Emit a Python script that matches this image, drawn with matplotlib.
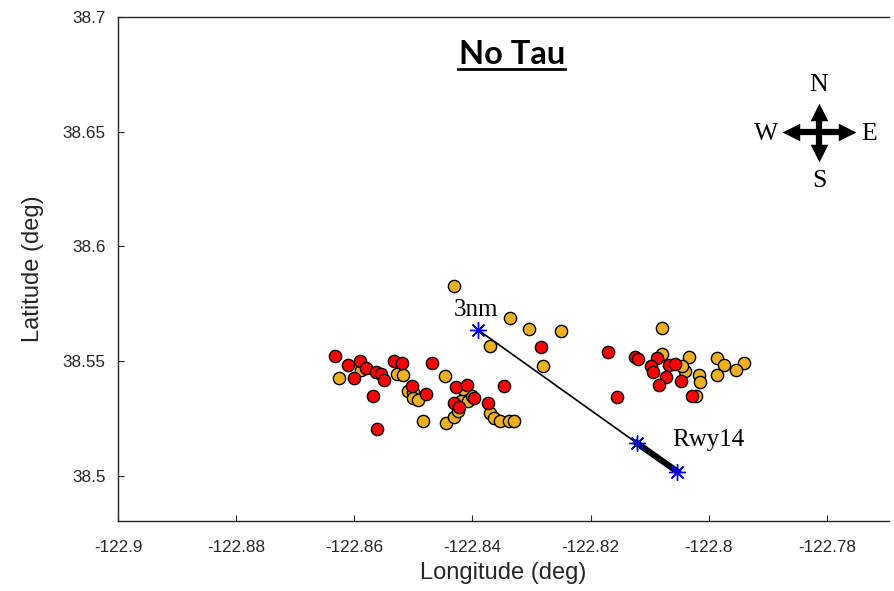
import matplotlib
matplotlib.use("Agg")
import matplotlib.pyplot as plt
from matplotlib.lines import Line2D

# Flight positions (lon, lat) in degrees
orange_lon = [-122.8431, -122.8337, -122.8305, -122.8251, -122.8370, -122.8280,
              -122.8626, -122.8589, -122.8527, -122.8518, -122.8509, -122.8500,
              -122.8501, -122.8493, -122.8446, -122.8484, -122.8445, -122.8432,
              -122.8425, -122.8419, -122.8408, -122.8401, -122.8416, -122.8370,
              -122.8364, -122.8354, -122.8338, -122.8329, -122.8080, -122.8080,
              -122.8034, -122.7986, -122.7975, -122.7941, -122.7954, -122.7986,
              -122.8017, -122.8015, -122.8041, -122.8046, -122.8022]
orange_lat = [38.5828, 38.5689, 38.5638, 38.5630, 38.5568, 38.5477,
              38.5426, 38.5463, 38.5444, 38.5441, 38.5368, 38.5364,
              38.5339, 38.5332, 38.5433, 38.5238, 38.5230, 38.5255,
              38.5282, 38.5328, 38.5328, 38.5349, 38.5379, 38.5273,
              38.5250, 38.5237, 38.5240, 38.5240, 38.5645, 38.5531,
              38.5520, 38.5512, 38.5485, 38.5490, 38.5462, 38.5441,
              38.5441, 38.5407, 38.5455, 38.5480, 38.5349]

red_lon = [-122.8632, -122.8610, -122.8590, -122.8581, -122.8601, -122.8564,
           -122.8555, -122.8550, -122.8569, -122.8533, -122.8520, -122.8503,
           -122.8479, -122.8562, -122.8469, -122.8428, -122.8409, -122.8397,
           -122.8431, -122.8423, -122.8373, -122.8347, -122.8284, -122.8170,
           -122.8125, -122.8119, -122.8088, -122.8098, -122.8094, -122.8073,
           -122.8085, -122.8067, -122.8057, -122.8047, -122.8028, -122.8155]
red_lat = [38.5523, 38.5482, 38.5502, 38.5470, 38.5428, 38.5451,
           38.5444, 38.5418, 38.5349, 38.5502, 38.5490, 38.5390,
           38.5355, 38.5204, 38.5492, 38.5389, 38.5397, 38.5339,
           38.5317, 38.5301, 38.5317, 38.5390, 38.5560, 38.5538,
           38.5517, 38.5510, 38.5512, 38.5477, 38.5451, 38.5432,
           38.5396, 38.5485, 38.5488, 38.5412, 38.5349, 38.5342]

# Approach path: 3 nm fix, threshold, runway end
path_lon = [-122.8390, -122.8122, -122.8053]
path_lat = [38.5635, 38.5143, 38.5018]
path_labels = ["3nm", "Rwy14"]

xticks = [-122.9, -122.88, -122.86, -122.84, -122.82, -122.8, -122.78]
yticks = [38.5, 38.55, 38.6, 38.65, 38.7]

W, H = 894, 591
fig = plt.figure(figsize=(W / 100, H / 100), dpi=100)
ax = fig.add_axes([118 / W, 1 - 521 / H, (889 - 118) / W, (521 - 17) / H])

ax.scatter(orange_lon, orange_lat, s=78, c="#EDB120", edgecolors="black",
           linewidths=1.0, zorder=3)
ax.scatter(red_lon, red_lat, s=78, c="#FF0000", edgecolors="black",
           linewidths=1.0, zorder=4)

ax.plot(path_lon[:2], path_lat[:2], color="black", lw=1.2, zorder=5)
ax.plot(path_lon[1:], path_lat[1:], color="black", lw=4.5, zorder=5)
ax.plot(path_lon, path_lat, linestyle="none", marker=(8, 2, 0), markersize=12,
        markeredgecolor="blue", markeredgewidth=1.0, color="blue", zorder=6)

serif = "Liberation Serif"
ax.annotate(path_labels[0], (path_lon[0], path_lat[0]), xytext=(-1.5, 14.5),
            textcoords="offset points", ha="center", va="center",
            fontsize=18, family=serif, zorder=7)
ax.annotate(path_labels[1], (path_lon[2], path_lat[2]), xytext=(22, 22.5),
            textcoords="offset points", ha="center", va="center",
            fontsize=18, family=serif, zorder=7)

ax.set_xlim(-122.9, -122.7695)
ax.set_ylim(38.4803, 38.7)
ax.set_xticks(xticks)
ax.set_yticks(yticks)
ax.set_xticklabels([f"{v:g}" for v in xticks])
ax.set_yticklabels([f"{v:g}" for v in yticks])
ax.tick_params(direction="in", length=4, width=0.8, colors="#262626",
               labelsize=12.3, top=False, right=False)
ax.tick_params(axis="x", pad=14)
ax.tick_params(axis="y", pad=9)
for lab in ax.get_xticklabels() + ax.get_yticklabels():
    lab.set_family("Liberation Sans")
ax.spines["right"].set_visible(False)
for side in ("left", "bottom", "top"):
    ax.spines[side].set_color("#262626")
    ax.spines[side].set_linewidth(1.0)

ax.set_xlabel("Longitude (deg)", fontsize=17, family="Liberation Sans",
              color="#262626", labelpad=5)
ax.set_ylabel("Latitude (deg)", fontsize=17, family="Liberation Sans",
              color="#262626", labelpad=13)

# Title with underline
fig.text(512 / W, 1 - 55 / H, "No Tau", ha="center", va="center",
         fontsize=23.5, fontweight="bold", family="Lato")
fig.add_artist(Line2D([458 / W, 565 / W], [1 - 69 / H, 1 - 69 / H],
                      color="black", lw=2.0))

# Compass rose: thick cross with triangular heads
cx, cy = 819, 132
fig.add_artist(Line2D([(cx - 26) / W, (cx + 26) / W], [1 - cy / H, 1 - cy / H],
                      color="black", lw=4.5, solid_capstyle="butt"))
fig.add_artist(Line2D([cx / W, cx / W], [1 - (cy - 19) / H, 1 - (cy + 20) / H],
                      color="black", lw=4.5, solid_capstyle="butt"))
heads = [("<", cx - 27, cy), (">", cx + 27, cy), ("^", cx, cy - 19), ("v", cx, cy + 20)]
for mk, px, py in heads:
    fig.add_artist(Line2D([px / W], [1 - py / H], marker=mk, markersize=8.5,
                          color="black", markeredgewidth=2.5, linestyle="none",
                          solid_joinstyle="round"))
for letter, px, py in [("N", 819, 85), ("S", 819, 181),
                       ("W", 766, 134), ("E", 869, 134)]:
    fig.text(px / W, 1 - py / H, letter, ha="center", va="center",
             fontsize=18.5, family=serif)

# Top of the next panel's tick label peeking in at the bottom edge
fig.text(105 / W, 1 - 600 / H, "38.7", ha="right", va="center",
         fontsize=12.3, family="Liberation Sans", color="#262626")

fig.savefig("out.png", dpi=100)
